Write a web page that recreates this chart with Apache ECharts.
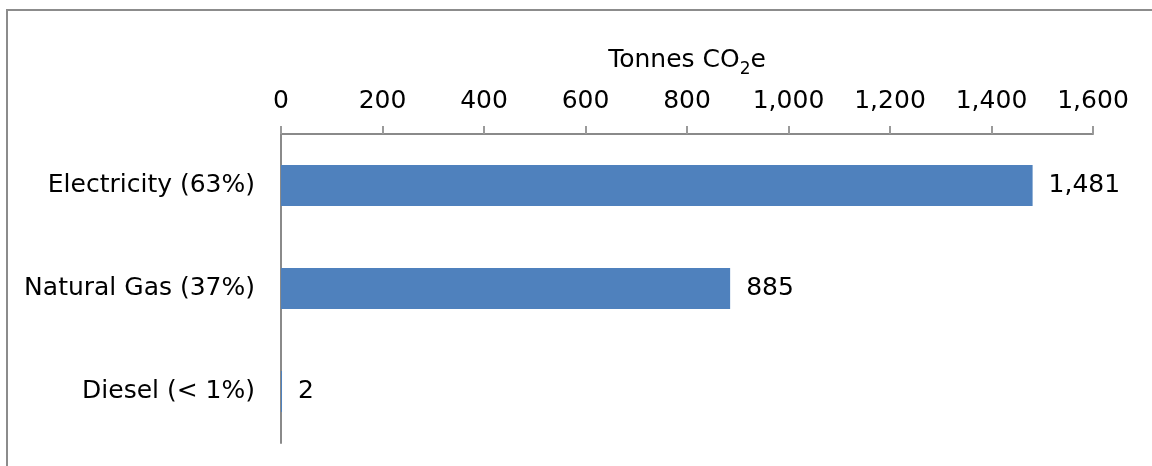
<!DOCTYPE html>
<html>
<head>
<meta charset="utf-8">
<script src="https://cdn.jsdelivr.net/npm/echarts@6/dist/echarts.min.js"></script>
<style>
  html, body { margin: 0; padding: 0; background: #fff; }
  #chart { width: 1152px; height: 466px; }
</style>
</head>
<body>
<div id="chart"></div>
<script>
// Emissions by energy source
const categories = ['Electricity (63%)', 'Natural Gas (37%)', 'Diesel (< 1%)'];
const emissions = [1481, 885, 2];
const axisMin = 0;
const axisMax = 1600;
const axisStep = 200;

const FONT = 'DejaVu Sans';
const fmt = v => Number(v).toLocaleString('en-US');

const chart = echarts.init(document.getElementById('chart'), null, { renderer: 'canvas' });

chart.setOption({
  animation: false,
  backgroundColor: '#ffffff',
  textStyle: { fontFamily: FONT, color: '#000' },
  graphic: [{
    type: 'rect',
    shape: { x: 7, y: 10, width: 1200, height: 520 },
    style: { fill: 'none', stroke: '#8c8c8c', lineWidth: 2 },
    silent: true
  }],
  grid: { left: 281, right: 59, top: 134, bottom: 23, containLabel: false },
  xAxis: {
    type: 'value',
    position: 'top',
    min: axisMin,
    max: axisMax,
    interval: axisStep,
    name: '{t|Tonnes CO}{s|2}{t|e}',
    nameLocation: 'middle',
    nameGap: 56,
    nameTextStyle: {
      rich: {
        t: { fontFamily: FONT, fontSize: 25, color: '#000', verticalAlign: 'bottom', lineHeight: 28, padding: [0, 0, 5, 0] },
        s: { fontFamily: FONT, fontSize: 17, color: '#000', verticalAlign: 'bottom', lineHeight: 20 }
      }
    },
    axisLine: { show: true, lineStyle: { color: '#8a8a8a', width: 2 } },
    axisTick: { show: true, length: 8, lineStyle: { color: '#9a9a9a', width: 2 } },
    axisLabel: {
      margin: 20,
      fontFamily: FONT,
      fontSize: 25,
      color: '#000',
      formatter: fmt
    },
    splitLine: { show: false }
  },
  yAxis: {
    type: 'category',
    inverse: true,
    data: categories,
    axisLine: { show: true, lineStyle: { color: '#8a8a8a', width: 2 } },
    axisTick: { show: false },
    axisLabel: { margin: 26, fontFamily: FONT, fontSize: 25, color: '#000' }
  },
  series: [{
    type: 'bar',
    data: emissions,
    barWidth: '40%',
    itemStyle: { color: '#4F81BD' },
    label: {
      show: true,
      position: 'right',
      distance: 16,
      fontFamily: FONT,
      fontSize: 25,
      color: '#000',
      formatter: p => fmt(p.value)
    }
  }]
});
</script>
</body>
</html>
